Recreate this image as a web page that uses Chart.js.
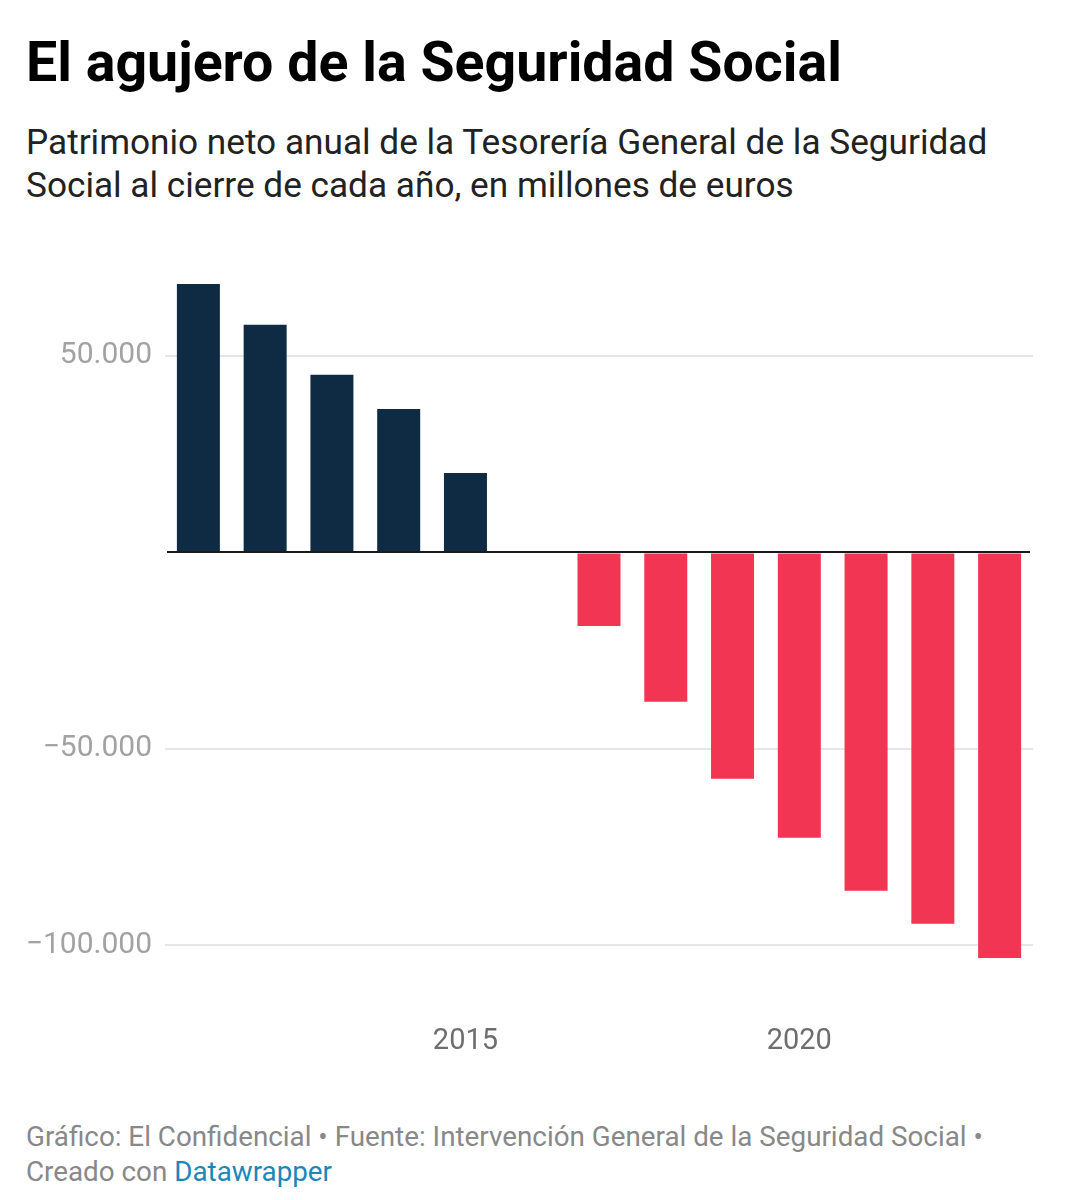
<!DOCTYPE html>
<html lang="es">
<head>
<meta charset="utf-8">
<title>El agujero de la Seguridad Social</title>
<script src="https://cdn.jsdelivr.net/npm/chart.js@4.4.1/dist/chart.umd.min.js"></script>
<style>
    body { margin: 0; background: #fff; font-family: Roboto, "Noto Sans", sans-serif; }
    #page { position: relative; width: 1086px; height: 1200px; overflow: hidden; }
    #titulo { position: absolute; left: 26px; top: 35px; margin: 0; font-size: 55.5px; line-height: 56px; font-weight: 700; color: #000; white-space: nowrap; }
    #subtitulo { position: absolute; left: 26px; top: 121px; margin: 0; font-size: 35.2px; line-height: 43px; color: #222; width: 1000px; }
    #grafico { position: absolute; left: 0; top: 240px; width: 1086px; height: 830px; }
    #pie { position: absolute; left: 26px; top: 1119px; margin: 0; font-size: 27.8px; line-height: 35px; color: #888; width: 1000px; }
    #pie a { color: #1d86b8; text-decoration: none; }
</style>
</head>
<body>
<div id="page">
    <h1 id="titulo">El agujero de la Seguridad Social</h1>
    <p id="subtitulo">Patrimonio neto anual de la Tesorería General de la Seguridad Social al cierre de cada año, en millones de euros</p>
    <div id="grafico"><canvas id="myChart"></canvas></div>
    <p id="pie">Gráfico: El Confidencial • Fuente: Intervención General de la Seguridad Social • Creado con <a>Datawrapper</a></p>
</div>
<script>
// Datos (millones de euros)
const anos = ['2011', '2012', '2013', '2014', '2015', '2016', '2017', '2018', '2019', '2020', '2021', '2022', '2023'];
const patrimonio = [68300, 57900, 45200, 36500, 20200, null, -18700, -38000, -57600, -72600, -86100, -94500, -103200];
const anosVisibles = ['2015', '2020'];
const marcasY = [50000, 0, -50000, -100000];

const azul = '#0f2b43';
const rojo = '#f13553';

// Formato español: 50.000 y signo menos tipográfico
function formatoNumero(v) {
    const abs = String(Math.abs(v)).replace(/\B(?=(\d{3})+(?!\d))/g, '.');
    return (v < 0 ? '\u2212' : '') + abs;
}

// Línea del cero dibujada por encima de las barras
const lineaCero = {
    id: 'lineaCero',
    afterDatasetsDraw(chart) {
        const { ctx, chartArea, scales } = chart;
        const y = Math.round(scales.y.getPixelForValue(0));
        ctx.save();
        ctx.strokeStyle = '#1a1a1a';
        ctx.lineWidth = 2;
        ctx.beginPath();
        ctx.moveTo(chartArea.left + 2, y);
        ctx.lineTo(chartArea.right - 3, y);
        ctx.stroke();
        ctx.restore();
    }
};

const valores = patrimonio.filter(v => v !== null);

const ctx = document.getElementById('myChart').getContext('2d');
const myChart = new Chart(ctx, {
    type: 'bar',
    data: {
        labels: anos,
        datasets: [{
            label: 'Patrimonio neto',
            data: patrimonio,
            backgroundColor: patrimonio.map(v => v >= 0 ? azul : rojo),
            borderWidth: 0,
            categoryPercentage: 1,
            barPercentage: 0.644
        }]
    },
    options: {
        responsive: true,
        maintainAspectRatio: false,
        animation: false,
        layout: { padding: { top: 44, right: 53, bottom: 11, left: 0 } },
        plugins: {
            legend: { display: false },
            tooltip: { enabled: false }
        },
        scales: {
            x: {
                afterFit: function(scale) { scale.height = 101; },
                grid: { display: false, drawTicks: false },
                border: { display: false },
                ticks: {
                    autoSkip: false,
                    maxRotation: 0,
                    padding: 66,
                    color: '#6e6e6e',
                    font: { family: 'Roboto', size: 29 },
                    callback: function(value, index) {
                        return anosVisibles.includes(anos[index]) ? anos[index] : '';
                    }
                }
            },
            y: {
                min: Math.min(...valores),
                max: Math.max(...valores),
                afterFit: function(scale) { scale.width = 165; },
                afterBuildTicks: function(scale) {
                    scale.ticks = marcasY.map(v => ({ value: v }));
                },
                grid: {
                    drawTicks: false,
                    lineWidth: 2,
                    color: ctx => ctx.tick && ctx.tick.value === 0 ? 'rgba(0,0,0,0)' : '#e6e6e6'
                },
                border: { display: false },
                ticks: {
                    padding: 13,
                    color: '#a2a2a2',
                    font: { family: 'Roboto', size: 30 },
                    callback: v => v === 0 ? '' : formatoNumero(v)
                }
            }
        }
    },
    plugins: [lineaCero]
});
</script>
</body>
</html>
